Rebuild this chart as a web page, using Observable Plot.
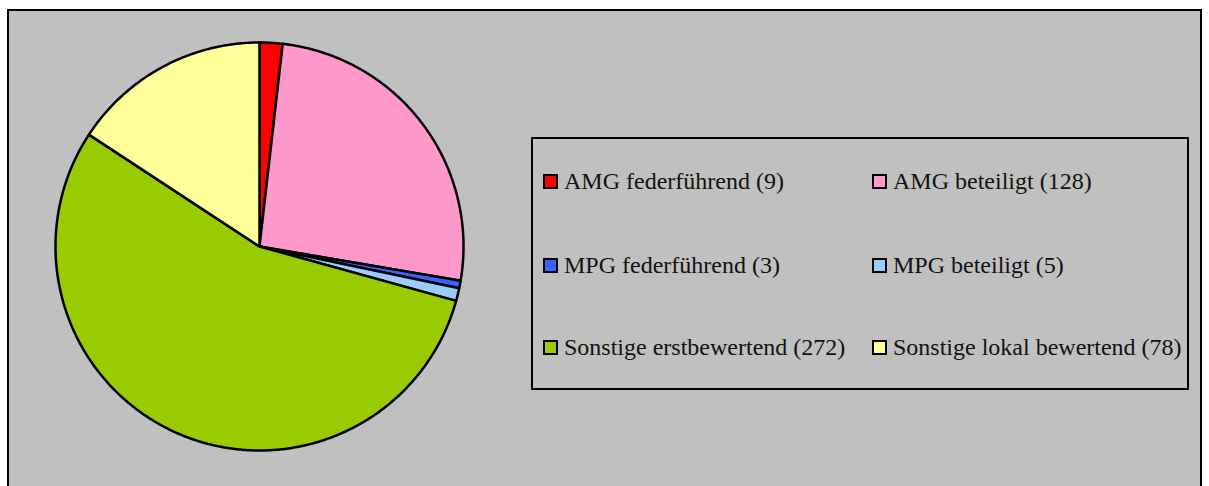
<!DOCTYPE html>
<html><head><meta charset="utf-8">
<script src="https://cdn.jsdelivr.net/npm/d3@7"></script>
<script src="https://cdn.jsdelivr.net/npm/@observablehq/plot@0.6"></script>
<style>
html,body{margin:0;padding:0;background:#fff;width:1209px;height:486px;overflow:hidden;}
#frame{position:absolute;left:7px;top:9px;width:1191px;height:490px;background:#C0C0C0;border:2px solid #000;}
#chart{position:absolute;left:0;top:0;}
#legend{position:absolute;left:531px;top:137px;width:654px;height:249px;border:2px solid #000;color:#111;}
.item{position:absolute;display:flex;align-items:center;white-space:nowrap;height:26px;}
.sw{width:11px;height:11px;border:2px solid #000;margin-right:6px;flex:none;}
</style></head>
<body>
<div id="frame"></div>
<div id="chart"></div>
<div id="legend"></div>
<script>
const names = ["AMG federführend","AMG beteiligt","MPG federführend","MPG beteiligt","Sonstige erstbewertend","Sonstige lokal bewertend"];
const values = [9,128,3,5,272,78];
const colors = ["#FF0000","#FF99CC","#3366FF","#99CCFF","#99CC00","#FFFF99"];

const total = d3.sum(values);
const pts = [];
let acc = 0;
names.forEach((n,i)=>{
  const a0 = acc/total*2*Math.PI;
  acc += values[i];
  const a1 = acc/total*2*Math.PI;
  pts.push({name:n,x:0,y:0});
  const steps = Math.max(2, Math.ceil((a1-a0)/(Math.PI/360)));
  for(let k=0;k<=steps;k++){
    const a = a0 + (a1-a0)*k/steps;
    pts.push({name:n,x:Math.sin(a),y:Math.cos(a)});
  }
  pts.push({name:n,x:0,y:0});
});

const plot = Plot.plot({
  width:1209,height:486,margin:0,
  x:{domain:[-1,1],range:[55,463],axis:null},
  y:{domain:[-1,1],range:[450,42],axis:null},
  color:{domain:names,range:colors},
  style:{background:"transparent",overflow:"visible"},
  marks:[
    Plot.line(pts,{x:"x",y:"y",z:"name",fill:"name",stroke:"#000",strokeWidth:2.5,strokeLinejoin:"round",curve:"linear"})
  ]
});
document.getElementById("chart").appendChild(plot);

const leg = document.getElementById("legend");
const colX = [10,339];
const rowY = [29,113,195];
names.forEach((n,i)=>{
  const d = document.createElement("div");
  d.className="item";
  d.style.left = colX[i%2]+"px";
  d.style.top = (rowY[Math.floor(i/2)])+"px";
  d.style.fontFamily = "'Liberation Serif', serif";
  d.style.fontSize = "24px";
  d.innerHTML = `<span class="sw" style="background:${colors[i]}"></span><span>${n} (${values[i]})</span>`;
  leg.appendChild(d);
});
</script>
</body></html>
